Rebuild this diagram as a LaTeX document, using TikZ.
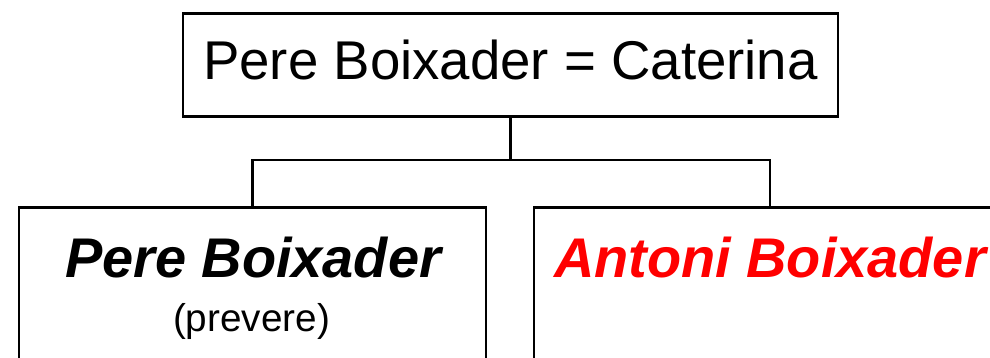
\documentclass[tikz,border=0pt]{standalone}
\usepackage{fontspec}
\setmainfont{Liberation Sans}
\usepackage{xcolor}
\begin{document}
\begin{tikzpicture}[x=1pt, y=-1pt, line width=2.8pt,
	frame/.style = {draw, rectangle, inner sep=0pt},
	bigtext/.style = {inner sep=0pt, anchor=base, font=\fontsize{54.6}{60}\selectfont},
	person/.style = {inner sep=0pt, anchor=base, font=\fontsize{55.9}{62}\selectfont\bfseries\itshape},
	smalltext/.style = {inner sep=0pt, anchor=base, font=\fontsize{38.7}{44}\selectfont}]
			\clip (0,0) rectangle (990,358);
			
			\node[frame, minimum width=655pt, minimum height=103pt, anchor=north] (par) at (510.5,12) {};
			\node[bigtext] (t1) at (510.5,80) {Pere Boixader = Caterina};
			
			\node[frame, minimum width=467pt, minimum height=200pt, anchor=north] (fill1) at (252.5,206) {};
			\node[frame, minimum width=472pt, minimum height=200pt, anchor=north] (fill2) at (770,206) {};
			
			\node[person] (n1) at (253,277) {Pere Boixader};
			\node[smalltext] (s1) at (251.5,331) {(prevere)};
			\node[person, text=red] (n2) at (770,277) {Antoni Boixader};
			
			\coordinate (mid) at (510.5,160);
			\draw (par.south) -- (mid);
			\draw (fill1.north) |- (mid) -| (fill2.north);
		\end{tikzpicture}
\end{document}
